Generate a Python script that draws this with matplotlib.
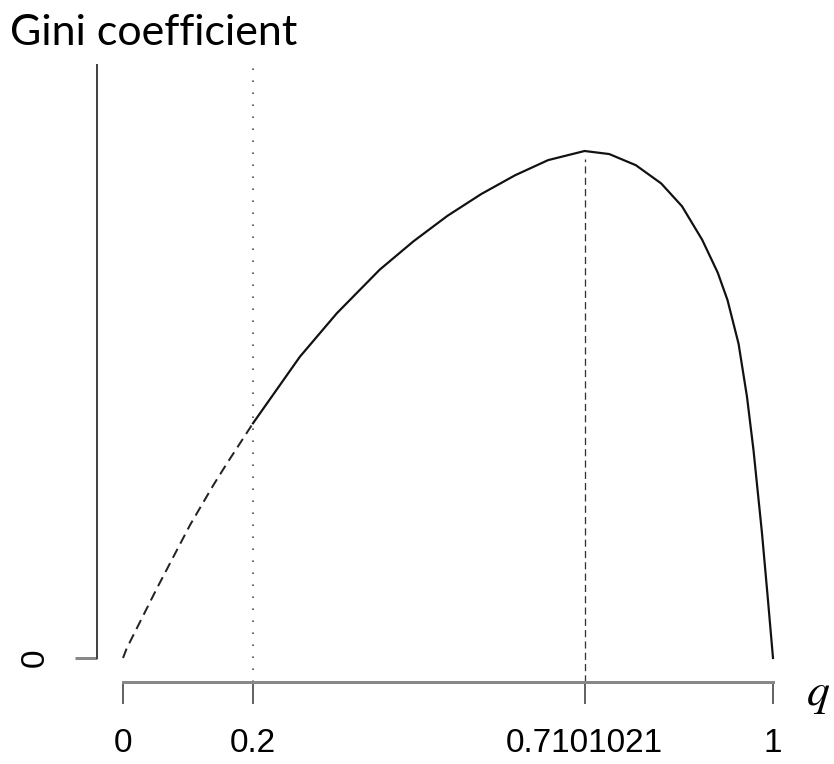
import matplotlib
matplotlib.use("Agg")
import matplotlib.pyplot as plt
import numpy as np

# values (gini scaled so the peak is 1)
q_vals = [0.0, 0.0057, 0.052, 0.103, 0.139, 0.160, 0.2,
          0.272, 0.329, 0.395, 0.447, 0.499, 0.551, 0.603, 0.654,
          0.7101021, 0.748, 0.789, 0.828, 0.860, 0.891, 0.915, 0.930,
          0.947, 0.960, 0.970, 0.983, 0.992, 1.0]
gini_vals = [0.0, 0.019, 0.137, 0.262, 0.341, 0.384, 0.463,
             0.594, 0.680, 0.766, 0.822, 0.872, 0.915, 0.952, 0.982,
             1.0, 0.994, 0.972, 0.936, 0.891, 0.825, 0.760, 0.706,
             0.620, 0.515, 0.410, 0.247, 0.118, 0.0]
q_cut = 0.2
q_peak = 0.7101021
x_ticks = [0, 0.2, 0.7101021, 1]
x_tick_labels = ["0", "0.2", "0.7101021", "1"]

W, H = 834, 764
px = 1 / 100 * 72  # points per pixel

# pixel layout of the reference
x0_px, x1_px = 123, 773
y0_px, ypk_px, ytop_px, xax_px = 658, 151, 65, 682
unit = y0_px - ypk_px
y_bot = -(xax_px - y0_px) / unit
y_top = (y0_px - ytop_px) / unit

fig = plt.figure(figsize=(W / 100, H / 100), dpi=100)
ax = fig.add_axes([x0_px / W, (H - xax_px) / H,
                   (x1_px - x0_px) / W, (xax_px - ytop_px) / H])
ax.set_xlim(0, 1)
ax.set_ylim(y_bot, y_top)

q = np.array(q_vals)
g = np.array(gini_vals)
lo = q <= q_cut
hi = q >= q_cut

ax.plot(q[lo], g[lo], color="#222222", lw=2 * px, ls=(0, (5, 3)),
        clip_on=False, solid_capstyle="butt")
ax.plot(q[hi], g[hi], color="#111111", lw=2.2 * px, clip_on=False,
        solid_joinstyle="round")

ax.axvline(q_cut, color="#444444", lw=1.6 * px, ls=(0, (1, 6.5)))
g_peak = g[np.argmin(np.abs(q - q_peak))]
ax.vlines(q_peak, y_bot, g_peak - 8 / unit, color="#333333",
          lw=1.3 * px, linestyles=(0, (5.5, 3.2)))

for s in ["top", "right"]:
    ax.spines[s].set_visible(False)
ax.spines["left"].set_position(("outward", 26 * px))
ax.spines["left"].set_bounds(0, y_top)
ax.spines["left"].set_color("#444444")
ax.spines["left"].set_linewidth(2 * px)
ax.spines["bottom"].set_bounds(0, 1)
ax.spines["bottom"].set_color("#888888")
ax.spines["bottom"].set_linewidth(3 * px)

tick_font = ["Liberation Sans Narrow", "Liberation Sans", "DejaVu Sans"]
ax.set_xticks(x_ticks)
ax.set_xticklabels(x_tick_labels, family=tick_font, fontsize=24)
ax.tick_params(axis="x", direction="out", length=22 * px, width=1.5 * px,
               color="#333333", pad=24 * px)
ax.set_yticks([0])
ax.set_yticklabels(["0"], family=tick_font, fontsize=24, rotation=90,
                   va="center")
ax.tick_params(axis="y", direction="out", length=22 * px, width=3 * px,
               color="#888888", pad=24 * px)

fig.text(10 / W, 1 - 45 / H, "Gini coefficient", fontsize=31,
         family=["Lato", "DejaVu Sans"], ha="left", va="baseline")
fig.text(806 / W, 1 - 693 / H, "$q$", fontsize=33, ha="left", va="center",
         math_fontfamily="stix")

fig.savefig("out.png", dpi=100)
